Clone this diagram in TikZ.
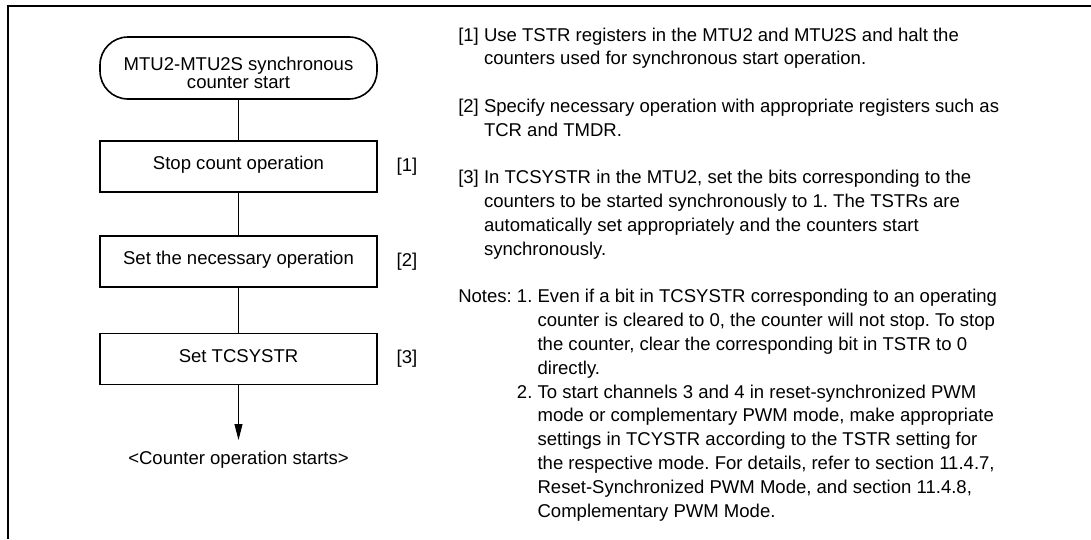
\documentclass[tikz,border=0pt]{standalone}
\usepackage{fontspec}
\setmainfont{Liberation Sans}
\usetikzlibrary{arrows.meta}
\frenchspacing

\begin{document}
\begin{tikzpicture}[
  x=0.75pt,y=-0.75pt,
  >={Triangle[length=12pt,width=6pt]},
  font=\fontsize{13.9}{17.85}\selectfont,
  term/.style={draw,line width=1.2pt,rounded corners=21pt,
    minimum width=207.75pt,minimum height=46.5pt,align=center,
    font=\fontsize{13.9}{13.5}\selectfont},
  stepbox/.style={draw,line width=1.2pt,minimum width=207.75pt,
    minimum height=38.25pt,text height=0.72em,text depth=0.22em},
  tag/.style={anchor=west},
  link/.style={line width=0.7pt},
  note/.style={anchor=base west,inner sep=0pt}]

  \useasboundingbox (0,0) rectangle (1091,539);

  % ---- frame ----
  \draw[line width=1.5pt] (7.5,539) -- (7.5,6) -- (1091,6);

  % ---- flow chart ----
  \node[term] (start) at (238.5,68)
    {\rule{0pt}{16.8pt}MTU2-MTU2S synchronous\\counter start};
  \node[stepbox] (stop) at (238.5,166.5) {Stop count operation};
  \node[stepbox] (setop) at (238.5,261.5) {Set the necessary operation};
  \node[stepbox] (setsys) at (238.5,359) {Set TCSYSTR};
  \coordinate (tip) at (238.5,440);
  \node[anchor=base] (starts) at (238.5,464) {<Counter operation starts>};

  \draw[link] (start) -- (stop);
  \draw[link] (stop) -- (setop);
  \draw[link] (setop) -- (setsys);
  \draw[link,->] (setsys) -- (tip);

  \node[tag] (tag1) at (392,166.5) {[1]};
  \node[tag] (tag2) at (392,261.5) {[2]};
  \node[tag] (tag3) at (392,359) {[3]};

  % ---- notes ----
  \node[note] (note1) at (458,41) {\begin{tabular}[t]{@{}l@{\ }l@{}}
    [1] & Use TSTR registers in the MTU2 and MTU2S and halt the\\
        & counters used for synchronous start operation.
  \end{tabular}};
  \node[note] (note2) at (458,112.4) {\begin{tabular}[t]{@{}l@{\ }l@{}}
    [2] & Specify necessary operation with appropriate registers such as\\
        & TCR and TMDR.
  \end{tabular}};
  \node[note] (note3) at (458,183.8) {\begin{tabular}[t]{@{}l@{\ }l@{}}
    [3] & In TCSYSTR in the MTU2, set the bits corresponding to the\\
        & counters to be started synchronously to 1. The TSTRs are\\
        & automatically set appropriately and the counters start\\
        & synchronously.
  \end{tabular}};
  \node[note] (notes) at (458,302.8) {\begin{tabular}[t]{@{}l@{\ }l@{\ }l@{}}
    Notes: & 1. & Even if a bit in TCSYSTR corresponding to an operating\\
           &    & counter is cleared to 0, the counter will not stop. To stop\\
           &    & the counter, clear the corresponding bit in TSTR to 0\\
           &    & directly.\\
           & 2. & To start channels 3 and 4 in reset-synchronized PWM\\
           &    & mode or complementary PWM mode, make appropriate\\
           &    & settings in TCYSTR according to the TSTR setting for\\
           &    & the respective mode. For details, refer to section 11.4.7,\\
           &    & Reset-Synchronized PWM Mode, and section 11.4.8,\\
           &    & Complementary PWM Mode.
  \end{tabular}};
\end{tikzpicture}
\end{document}
